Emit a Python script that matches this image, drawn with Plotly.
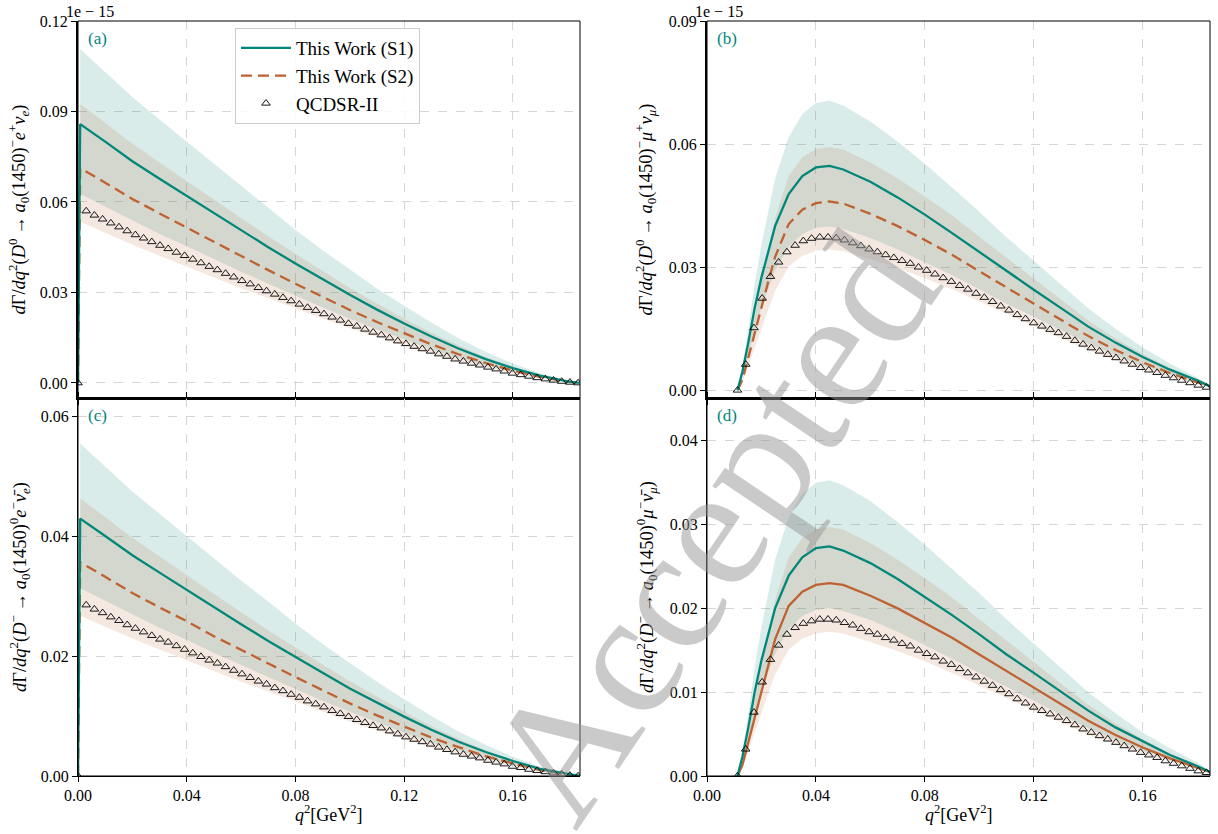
import numpy as np
import plotly.graph_objects as go

# ---------------- data (units of 1e-15) ----------------
# electron modes: q^2 grid for model curves
q_e = [0, 0.0008, 0.01, 0.02, 0.03, 0.04, 0.05, 0.06, 0.07, 0.08, 0.09, 0.10,
       0.11, 0.12, 0.13, 0.14, 0.15, 0.16, 0.17, 0.18, 0.1846]
q_e_band = q_e[1:]

a_S1 = [0, 0.0858, 0.0800, 0.0735, 0.0677, 0.0620, 0.0562, 0.0505, 0.0450, 0.0396, 0.0343,
        0.0292, 0.0243, 0.0197, 0.0154, 0.0114, 0.0079, 0.0049, 0.0024, 0.0005, 0]
a_S1_hi = [0.1107, 0.1032, 0.0948, 0.0873, 0.0800, 0.0725, 0.0651, 0.0581, 0.0508, 0.0440,
           0.0375, 0.0313, 0.0256, 0.0200, 0.0148, 0.0103, 0.0064, 0.0032, 0.0007, 0]
a_S1_lo = [0.0626, 0.0584, 0.0537, 0.0494, 0.0453, 0.0410, 0.0369, 0.0329, 0.0289, 0.0250,
           0.0213, 0.0177, 0.0144, 0.0112, 0.0083, 0.0058, 0.0036, 0.0018, 0.0004, 0]
a_S2 = [0, 0.0712, 0.0664, 0.0610, 0.0562, 0.0515, 0.0466, 0.0419, 0.0374, 0.0329, 0.0285,
        0.0242, 0.0202, 0.0164, 0.0128, 0.0095, 0.0066, 0.0041, 0.0020, 0.0004, 0]
a_S2_hi = [0.0926, 0.0863, 0.0793, 0.0731, 0.0670, 0.0606, 0.0545, 0.0486, 0.0428, 0.0371,
           0.0315, 0.0263, 0.0213, 0.0166, 0.0124, 0.0086, 0.0053, 0.0026, 0.0005, 0]
a_S2_lo = [0.0534, 0.0498, 0.0458, 0.0422, 0.0386, 0.0350, 0.0314, 0.0281, 0.0247, 0.0214,
           0.0182, 0.0152, 0.0123, 0.0096, 0.0071, 0.0050, 0.0031, 0.0015, 0.0003, 0]
a_QCD = [0, 0.0570, 0.0556, 0.0543, 0.0530, 0.0517, 0.0504, 0.0491, 0.0480, 0.0468, 0.0456,
         0.0445, 0.0433, 0.0422, 0.0410, 0.0398, 0.0386, 0.0375, 0.0363, 0.0351, 0.0339,
         0.0328, 0.0316, 0.0305, 0.0294, 0.0283, 0.0272, 0.0261, 0.0250, 0.0240, 0.0229,
         0.0218, 0.0208, 0.0197, 0.0188, 0.0178, 0.0168, 0.0159, 0.0149, 0.0139, 0.0130,
         0.0121, 0.0113, 0.0105, 0.0096, 0.0088, 0.0079, 0.0072, 0.0065, 0.0059, 0.0052,
         0.0046, 0.0039, 0.0032, 0.0027, 0.0022, 0.0017, 0.0013, 0.0009, 0.0005, 0.0002, 0.0]

c_S1 = [0, 0.0429, 0.0400, 0.0368, 0.0339, 0.0310, 0.0281, 0.0253, 0.0225, 0.0198, 0.0172,
        0.0146, 0.0122, 0.0099, 0.0077, 0.0057, 0.0040, 0.0025, 0.0012, 0.0003, 0]
c_S1_hi = [0.0554, 0.0516, 0.0474, 0.0437, 0.0400, 0.0363, 0.0326, 0.0291, 0.0254, 0.0220,
           0.0188, 0.0157, 0.0128, 0.0100, 0.0074, 0.0052, 0.0032, 0.0016, 0.0004, 0]
c_S1_lo = [0.0313, 0.0292, 0.0269, 0.0247, 0.0227, 0.0205, 0.0185, 0.0165, 0.0145, 0.0125,
           0.0107, 0.0089, 0.0072, 0.0056, 0.0042, 0.0029, 0.0018, 0.0009, 0.0002, 0]
c_S2 = [0, 0.0356, 0.0332, 0.0305, 0.0281, 0.0258, 0.0233, 0.0210, 0.0187, 0.0165, 0.0143,
        0.0121, 0.0101, 0.0082, 0.0064, 0.0048, 0.0033, 0.0021, 0.0010, 0.0002, 0]
c_S2_hi = [0.0463, 0.0432, 0.0397, 0.0366, 0.0335, 0.0303, 0.0273, 0.0243, 0.0214, 0.0186,
           0.0158, 0.0132, 0.0107, 0.0083, 0.0062, 0.0043, 0.0027, 0.0013, 0.0003, 0]
c_S2_lo = [0.0267, 0.0249, 0.0229, 0.0211, 0.0193, 0.0175, 0.0157, 0.0141, 0.0124, 0.0107,
           0.0091, 0.0076, 0.0062, 0.0048, 0.0036, 0.0025, 0.0016, 0.0008, 0.0002, 0]
c_QCD = [0, 0.0285, 0.0278, 0.0272, 0.0265, 0.0259, 0.0252, 0.0246, 0.0240, 0.0234, 0.0228,
         0.0223, 0.0217, 0.0211, 0.0205, 0.0199, 0.0193, 0.0188, 0.0182, 0.0176, 0.0170,
         0.0164, 0.0158, 0.0153, 0.0147, 0.0142, 0.0136, 0.0131, 0.0125, 0.0120, 0.0115,
         0.0109, 0.0104, 0.0099, 0.0094, 0.0089, 0.0084, 0.0080, 0.0075, 0.0070, 0.0065,
         0.0061, 0.0057, 0.0053, 0.0048, 0.0044, 0.0040, 0.0036, 0.0033, 0.0030, 0.0026,
         0.0023, 0.0020, 0.0016, 0.0014, 0.0011, 0.0009, 0.0007, 0.0005, 0.0003, 0.0001, 0.0]

# muon modes
q_m = [0.0112, 0.013, 0.015, 0.0175, 0.02, 0.0225, 0.025, 0.03, 0.035, 0.04, 0.045, 0.05,
       0.06, 0.07, 0.08, 0.09, 0.10, 0.11, 0.12, 0.13, 0.14, 0.15, 0.16, 0.17, 0.18, 0.1846]

b_S1 = [0, 0.0045, 0.0110, 0.0200, 0.0275, 0.0340, 0.0400, 0.0478, 0.0522, 0.0543, 0.0547,
        0.0538, 0.0508, 0.0470, 0.0428, 0.0383, 0.0337, 0.0289, 0.0245, 0.0200, 0.0155,
        0.0116, 0.0081, 0.0050, 0.0024, 0.0010]
b_S1_hi = [0, 0.0058, 0.0142, 0.0258, 0.0355, 0.0439, 0.0516, 0.0617, 0.0673, 0.0700, 0.0706,
           0.0694, 0.0655, 0.0606, 0.0552, 0.0494, 0.0435, 0.0373, 0.0316, 0.0258, 0.0200,
           0.0150, 0.0104, 0.0065, 0.0031, 0.0013]
b_S1_lo = [0, 0.0033, 0.0080, 0.0146, 0.0201, 0.0248, 0.0292, 0.0349, 0.0381, 0.0396, 0.0399,
           0.0393, 0.0371, 0.0343, 0.0312, 0.0280, 0.0246, 0.0211, 0.0179, 0.0146, 0.0113,
           0.0085, 0.0059, 0.0037, 0.0018, 0.0007]
b_S2 = [0, 0.0025, 0.0075, 0.0140, 0.0200, 0.0265, 0.0325, 0.0405, 0.0440, 0.0456, 0.0460,
        0.0455, 0.0430, 0.0400, 0.0366, 0.0330, 0.0290, 0.0250, 0.0210, 0.0170, 0.0132,
        0.0098, 0.0068, 0.0042, 0.0020, 0.0009]
b_S2_hi = [0, 0.0032, 0.0097, 0.0181, 0.0258, 0.0342, 0.0419, 0.0522, 0.0568, 0.0588, 0.0593,
           0.0587, 0.0555, 0.0516, 0.0472, 0.0426, 0.0374, 0.0323, 0.0271, 0.0219, 0.0170,
           0.0126, 0.0088, 0.0054, 0.0026, 0.0012]
b_S2_lo = [0, 0.0019, 0.0056, 0.0104, 0.0149, 0.0197, 0.0242, 0.0302, 0.0328, 0.0340, 0.0343,
           0.0339, 0.0320, 0.0298, 0.0273, 0.0246, 0.0216, 0.0186, 0.0156, 0.0127, 0.0098,
           0.0073, 0.0051, 0.0031, 0.0015, 0.0007]
b_QCD = [0, 0.0063, 0.0152, 0.0224, 0.0277, 0.0312, 0.0337, 0.0353, 0.0364, 0.0370, 0.0373,
         0.0373, 0.0371, 0.0366, 0.0359, 0.0352, 0.0344, 0.0337, 0.0330, 0.0323, 0.0316,
         0.0309, 0.0300, 0.0292, 0.0283, 0.0274, 0.0265, 0.0255, 0.0246, 0.0236, 0.0226,
         0.0216, 0.0205, 0.0195, 0.0184, 0.0174, 0.0164, 0.0156, 0.0148, 0.0140, 0.0131,
         0.0121, 0.0112, 0.0103, 0.0095, 0.0087, 0.0079, 0.0071, 0.0063, 0.0055, 0.0049,
         0.0043, 0.0036, 0.0030, 0.0024, 0.0018, 0.0012, 0.0007]

d_S1 = [0, 0.0023, 0.0055, 0.0100, 0.0138, 0.0170, 0.0200, 0.0239, 0.0261, 0.0272, 0.0274,
        0.0269, 0.0254, 0.0235, 0.0214, 0.0192, 0.0169, 0.0145, 0.0123, 0.0100, 0.0078,
        0.0058, 0.0041, 0.0025, 0.0012, 0.0005]
d_S1_hi = [0, 0.0029, 0.0071, 0.0129, 0.0178, 0.0220, 0.0258, 0.0309, 0.0337, 0.0350, 0.0353,
           0.0347, 0.0328, 0.0303, 0.0276, 0.0247, 0.0218, 0.0187, 0.0158, 0.0129, 0.0100,
           0.0075, 0.0052, 0.0033, 0.0016, 0.0007]
d_S1_lo = [0, 0.0017, 0.0040, 0.0073, 0.0101, 0.0124, 0.0146, 0.0175, 0.0191, 0.0198, 0.0200,
           0.0197, 0.0186, 0.0172, 0.0156, 0.0140, 0.0123, 0.0106, 0.0090, 0.0073, 0.0057,
           0.0043, 0.0030, 0.0019, 0.0009, 0.0004]
d_S2 = [0, 0.0013, 0.0038, 0.0070, 0.0100, 0.0133, 0.0163, 0.0203, 0.0220, 0.0228, 0.0230,
        0.0228, 0.0215, 0.0200, 0.0183, 0.0165, 0.0145, 0.0125, 0.0105, 0.0085, 0.0066,
        0.0049, 0.0034, 0.0021, 0.0010, 0.0005]
d_S2_hi = [0, 0.0016, 0.0049, 0.0091, 0.0129, 0.0171, 0.0210, 0.0261, 0.0284, 0.0294, 0.0297,
           0.0294, 0.0278, 0.0258, 0.0236, 0.0213, 0.0187, 0.0162, 0.0136, 0.0110, 0.0085,
           0.0063, 0.0044, 0.0027, 0.0013, 0.0006]
d_S2_lo = [0, 0.0010, 0.0028, 0.0052, 0.0075, 0.0099, 0.0121, 0.0151, 0.0164, 0.0170, 0.0172,
           0.0170, 0.0160, 0.0149, 0.0137, 0.0123, 0.0108, 0.0093, 0.0078, 0.0064, 0.0049,
           0.0037, 0.0026, 0.0016, 0.0008, 0.0004]
d_QCD = [0, 0.0032, 0.0076, 0.0112, 0.0139, 0.0156, 0.0169, 0.0177, 0.0182, 0.0185, 0.0187,
         0.0187, 0.0186, 0.0183, 0.0180, 0.0176, 0.0172, 0.0169, 0.0165, 0.0162, 0.0158,
         0.0155, 0.0150, 0.0146, 0.0142, 0.0137, 0.0133, 0.0128, 0.0123, 0.0118, 0.0113,
         0.0108, 0.0103, 0.0098, 0.0092, 0.0087, 0.0082, 0.0078, 0.0074, 0.0070, 0.0066,
         0.0061, 0.0056, 0.0052, 0.0048, 0.0044, 0.0040, 0.0036, 0.0032, 0.0028, 0.0025,
         0.0022, 0.0018, 0.0015, 0.0012, 0.0009, 0.0006, 0.0004]

q_qcd_e = np.linspace(0.0, 0.1840, len(a_QCD))
q_qcd_m = np.linspace(0.0112, 0.1834, len(b_QCD))

x_ticks = [0.0, 0.04, 0.08, 0.12, 0.16]
x_range = [0, 0.1847]

# ---------------- styling ----------------
TEAL = "#00877a"
ORANGE = "#bd6230"
FILL_TEAL = "rgba(0,128,115,0.15)"
FILL_ORANGE = "rgba(190,100,50,0.15)"
SERIF = "Liberation Serif"
ARR = "\u2009\u2192\u2009"

panels = [
    dict(label="(a)", xa="x", ya="y", q=q_e, qb=q_e_band, s1=a_S1, s1hi=a_S1_hi, s1lo=a_S1_lo,
         s2=a_S2, s2hi=a_S2_hi, s2lo=a_S2_lo, qq=q_qcd_e, qcd=a_QCD, s2dash="11px,6px",
         yr=[-0.005, 0.12], yt=[0, 0.03, 0.06, 0.09, 0.12], top=True, col=0,
         title="<i>d</i>Γ/<i>dq</i><sup>2</sup>(<i>D</i><sup>0</sup>" + ARR + "<i>a</i><sub>0</sub>(1450)<sup>−</sup><i>e</i><sup>+</sup><i>ν<sub>e</sub></i>)"),
    dict(label="(b)", xa="x2", ya="y2", q=q_m, qb=q_m, s1=b_S1, s1hi=b_S1_hi, s1lo=b_S1_lo,
         s2=b_S2, s2hi=b_S2_hi, s2lo=b_S2_lo, qq=q_qcd_m, qcd=b_QCD, s2dash="11px,6px",
         yr=[-0.0019, 0.09], yt=[0, 0.03, 0.06, 0.09], top=True, col=1,
         title="<i>d</i>Γ/<i>dq</i><sup>2</sup>(<i>D</i><sup>0</sup>" + ARR + "<i>a</i><sub>0</sub>(1450)<sup>−</sup><i>μ</i><sup>+</sup><i>ν<sub>μ</sub></i>)"),
    dict(label="(c)", xa="x3", ya="y3", q=q_e, qb=q_e_band, s1=c_S1, s1hi=c_S1_hi, s1lo=c_S1_lo,
         s2=c_S2, s2hi=c_S2_hi, s2lo=c_S2_lo, qq=q_qcd_e, qcd=c_QCD, s2dash="11px,6px",
         yr=[0, 0.063], yt=[0, 0.02, 0.04, 0.06], top=False, col=0,
         title="<i>d</i>Γ/<i>dq</i><sup>2</sup>(<i>D</i><sup>−</sup>" + ARR + "<i>a</i><sub>0</sub>(1450)<sup>0</sup><i>e</i><sup>−</sup><i>ν\u0304<sub>e</sub></i>)"),
    dict(label="(d)", xa="x4", ya="y4", q=q_m, qb=q_m, s1=d_S1, s1hi=d_S1_hi, s1lo=d_S1_lo,
         s2=d_S2, s2hi=d_S2_hi, s2lo=d_S2_lo, qq=q_qcd_m, qcd=d_QCD, s2dash="solid",
         yr=[0, 0.0451], yt=[0, 0.01, 0.02, 0.03, 0.04], top=False, col=1,
         title="<i>d</i>Γ/<i>dq</i><sup>2</sup>(<i>D</i><sup>−</sup>" + ARR + "<i>a</i><sub>0</sub>(1450)<sup>0</sup><i>μ</i><sup>−</sup><i>ν\u0304<sub>μ</sub></i>)"),
]

W, H = 1218, 834
xdom = [[78 / W, 580 / W], [707 / W, 1210 / W]]
ydom_top = [1 - 398 / H, 1 - 21 / H]
ydom_bot = [1 - 776 / H, 1 - 398 / H]

fig = go.Figure()

for i, p in enumerate(panels):
    first = i == 0
    kw = dict(xaxis=p["xa"], yaxis=p["ya"])
    # S1 band
    fig.add_trace(go.Scatter(x=p["qb"], y=p["s1lo"], mode="lines", line=dict(width=0),
                             showlegend=False, hoverinfo="skip", **kw))
    fig.add_trace(go.Scatter(x=p["qb"], y=p["s1hi"], mode="lines", line=dict(width=0),
                             fill="tonexty", fillcolor=FILL_TEAL, showlegend=False,
                             hoverinfo="skip", **kw))
    # S2 band
    fig.add_trace(go.Scatter(x=p["qb"], y=p["s2lo"], mode="lines", line=dict(width=0),
                             showlegend=False, hoverinfo="skip", **kw))
    fig.add_trace(go.Scatter(x=p["qb"], y=p["s2hi"], mode="lines", line=dict(width=0),
                             fill="tonexty", fillcolor=FILL_ORANGE, showlegend=False,
                             hoverinfo="skip", **kw))
    # lines
    fig.add_trace(go.Scatter(x=p["q"], y=p["s2"], mode="lines", name="This Work (S2)",
                             line=dict(color=ORANGE, width=2.3, dash=p["s2dash"]),
                             showlegend=first, legendrank=2, **kw))
    fig.add_trace(go.Scatter(x=p["q"], y=p["s1"], mode="lines", name="This Work (S1)",
                             line=dict(color=TEAL, width=2.3),
                             showlegend=first, legendrank=1, **kw))
    fig.add_trace(go.Scatter(x=p["qq"], y=p["qcd"], mode="markers", name="QCDSR-II",
                             marker=dict(symbol="triangle-up-open", size=7.5, color="black",
                                         line=dict(width=0.9, color="black")),
                             showlegend=first, legendrank=3, **kw))

layout = dict(
    template="none",
    width=W, height=H, margin=dict(l=0, r=0, t=0, b=0, autoexpand=False),
    paper_bgcolor="white", plot_bgcolor="white",
    font=dict(family=SERIF, size=16, color="black"),
    legend=dict(x=235 / W, y=1 - 28 / H, xanchor="left", yanchor="top",
                traceorder="normal",
                bgcolor="rgba(255,255,255,0.85)", bordercolor="#cccccc", borderwidth=1,
                font=dict(family=SERIF, size=19, color="black"),
                itemwidth=50, tracegroupgap=0),
)

annotations = []
shapes = []
for i, p in enumerate(panels):
    xa_name = "xaxis" + ("" if i == 0 else str(i + 1))
    ya_name = "yaxis" + ("" if i == 0 else str(i + 1))
    lw = 2 if p["top"] else 1
    xaxis = dict(domain=xdom[p["col"]], anchor=p["ya"], range=x_range, automargin=False,
                 tickvals=x_ticks, ticktext=[f"{v:.2f}" for v in x_ticks],
                 showticklabels=not p["top"], ticks="outside", ticklen=5, tickwidth=1.2,
                 tickcolor="black", showline=True, linewidth=lw, linecolor="black",
                 mirror="ticks" if not p["top"] else False,
                 showgrid=True, gridcolor="#d6d6d6", gridwidth=1, griddash="dash",
                 zeroline=False, tickfont=dict(family=SERIF, size=16, color="black"))
    yaxis = dict(domain=ydom_top if p["top"] else ydom_bot, anchor=p["xa"], range=p["yr"],
                 automargin=False,
                 tickvals=p["yt"], ticktext=[f"{v:.2f}" for v in p["yt"]],
                 ticks="outside", ticklen=5, tickwidth=1.2, tickcolor="black",
                 showline=True, linewidth=lw, linecolor="black", mirror=False,
                 showgrid=True, gridcolor="#d6d6d6", gridwidth=1, griddash="dash",
                 zeroline=False, tickfont=dict(family=SERIF, size=16, color="black"))
    layout[xa_name] = xaxis
    layout[ya_name] = yaxis

    # thin frame for remaining spines
    shapes.append(dict(type="rect", xref=p["xa"] + " domain", yref=p["ya"] + " domain",
                       x0=0, x1=1, y0=0, y1=1, line=dict(color="black", width=1),
                       fillcolor="rgba(0,0,0,0)", layer="above"))

    dx0, dx1 = xdom[p["col"]]
    dy0, dy1 = (ydom_top if p["top"] else ydom_bot)
    # panel label
    annotations.append(dict(text=p["label"], x=dx0 + 8 / W, y=dy1 - 6 / H, xref="paper",
                            yref="paper", xanchor="left", yanchor="top", showarrow=False,
                            font=dict(family=SERIF, size=17, color=TEAL)))
    # y title
    tx = 19 / W if p["col"] == 0 else 646 / W
    annotations.append(dict(text=p["title"], x=tx, y=(dy0 + dy1) / 2, xref="paper",
                            yref="paper", xanchor="center", yanchor="middle", textangle=-90,
                            showarrow=False, font=dict(family=SERIF, size=18.5, color="black")))
    if p["top"]:
        annotations.append(dict(text="1e \u2212 15", x=dx0 - 14 / W, y=1 - 1 / H, xref="paper",
                                yref="paper", xanchor="left", yanchor="top", showarrow=False,
                                font=dict(family=SERIF, size=16, color="black")))
    else:
        annotations.append(dict(text="<i>q</i><sup>2</sup>[GeV<sup>2</sup>]",
                                x=(dx0 + dx1) / 2, y=1 - 813 / H, xref="paper", yref="paper",
                                xanchor="center", yanchor="middle", showarrow=False,
                                font=dict(family=SERIF, size=18, color="black")))

# watermark
annotations.append(dict(text="Accepted", x=712 / W, y=1 - 525 / H, xref="paper", yref="paper",
                        xanchor="center", yanchor="middle", textangle=-56, showarrow=False,
                        font=dict(family=SERIF, size=175, color="rgba(150,150,150,0.5)")))

layout["annotations"] = annotations
layout["shapes"] = shapes
fig.update_layout(**layout)

fig.write_html("out.html", config={"displayModeBar": False},
               post_script="document.body.style.margin='0';document.body.style.padding='0';")
